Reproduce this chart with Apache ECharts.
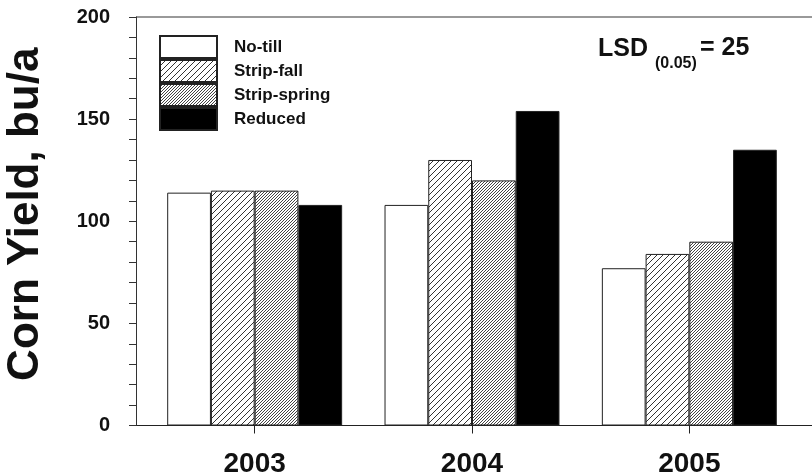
<!DOCTYPE html>
<html>
<head>
<meta charset="utf-8">
<script src="https://cdn.jsdelivr.net/npm/echarts@6/dist/echarts.min.js"></script>
<style>
  html, body { margin: 0; padding: 0; background: #fff; }
  #chart { width: 812px; height: 476px; }
</style>
</head>
<body>
<div id="chart"></div>
<script>
const years = ['2003', '2004', '2005'];
const seriesNames = ['No-till', 'Strip-fall', 'Strip-spring', 'Reduced'];
const noTill = [114, 108, 77];
const stripFall = [115, 130, 84];
const stripSpring = [115, 120, 90];
const reduced = [108, 154, 135];

const font = '"Liberation Sans", Arial, Helvetica, sans-serif';

// diagonal hatch made of 1px pixel steps
function hatch(step, color) {
  const c = document.createElement('canvas');
  c.width = c.height = step;
  const ctx = c.getContext('2d');
  ctx.fillStyle = '#fff';
  ctx.fillRect(0, 0, step, step);
  ctx.fillStyle = color;
  for (let i = 0; i < step; i++) ctx.fillRect(i, step - 1 - i, 1, 1);
  return c;
}

const fills = [
  '#ffffff',
  { image: hatch(6, '#333'), repeat: 'repeat' },
  { image: hatch(3, '#444'), repeat: 'repeat' },
  '#000000'
];
const values = [noTill, stripFall, stripSpring, reduced];

const chart = echarts.init(document.getElementById('chart'));
chart.setOption({
  animation: false,
  grid: { left: 146, right: 14, top: 17, bottom: 50.5, outerBoundsMode: 'none', containLabel: false },
  legend: {
    data: seriesNames,
    orient: 'vertical',
    left: 159,
    top: 35,
    padding: 0,
    itemGap: 0,
    itemWidth: 57,
    itemHeight: 22,
    icon: 'rect',
    textStyle: { fontFamily: font, fontSize: 17, fontWeight: 'bold', color: '#111', padding: [0, 0, 0, 12] }
  },
  xAxis: {
    type: 'category',
    data: years,
    axisLine: { show: false },
    axisTick: { show: true, alignWithLabel: true, length: 8, lineStyle: { color: '#222' } },
    axisLabel: { fontFamily: font, fontSize: 28, fontWeight: 'bold', color: '#111', margin: 25 }
  },
  yAxis: {
    type: 'value',
    min: 0,
    max: 200,
    interval: 50,
    offset: 10,
    name: 'Corn Yield, bu/a',
    nameLocation: 'middle',
    nameGap: 88,
    nameTextStyle: { fontFamily: font, fontSize: 44, fontWeight: 'bold', color: '#111', padding: [0, 0, 0, 14] },
    axisLine: { show: true, lineStyle: { color: '#333' } },
    axisTick: { show: true, length: 7, lineStyle: { color: '#333' } },
    minorTick: { show: true, splitNumber: 5, length: 7, lineStyle: { color: '#333' } },
    splitLine: { show: false },
    axisLabel: { fontFamily: font, fontSize: 20, fontWeight: 'bold', color: '#111', margin: 26 }
  },
  graphic: [
    { type: 'line', shape: { x1: 136, y1: 17, x2: 812, y2: 17 }, style: { stroke: '#777', lineWidth: 1.5 } },
    { type: 'line', shape: { x1: 136, y1: 425.5, x2: 812, y2: 425.5 }, style: { stroke: '#222', lineWidth: 1.2 } },
    { type: 'text', x: 598, y: 49, style: { text: 'LSD', fontFamily: font, fontSize: 25, fontWeight: 'bold', fill: '#111', textVerticalAlign: 'middle', verticalAlign: 'middle' } },
    { type: 'text', x: 655, y: 64, style: { text: '(0.05)', fontFamily: font, fontSize: 16, fontWeight: 'bold', fill: '#111', textVerticalAlign: 'middle', verticalAlign: 'middle' } },
    { type: 'text', x: 700, y: 48, style: { text: '= 25', fontFamily: font, fontSize: 25, fontWeight: 'bold', fill: '#111', textVerticalAlign: 'middle', verticalAlign: 'middle' } }
  ],
  series: seriesNames.map((name, i) => ({
    name: name,
    type: 'bar',
    barGap: '0%',
    barCategoryGap: '19.5%',
    data: values[i],
    itemStyle: { color: fills[i], borderColor: '#222', borderWidth: 1 }
  }))
});
</script>
</body>
</html>
